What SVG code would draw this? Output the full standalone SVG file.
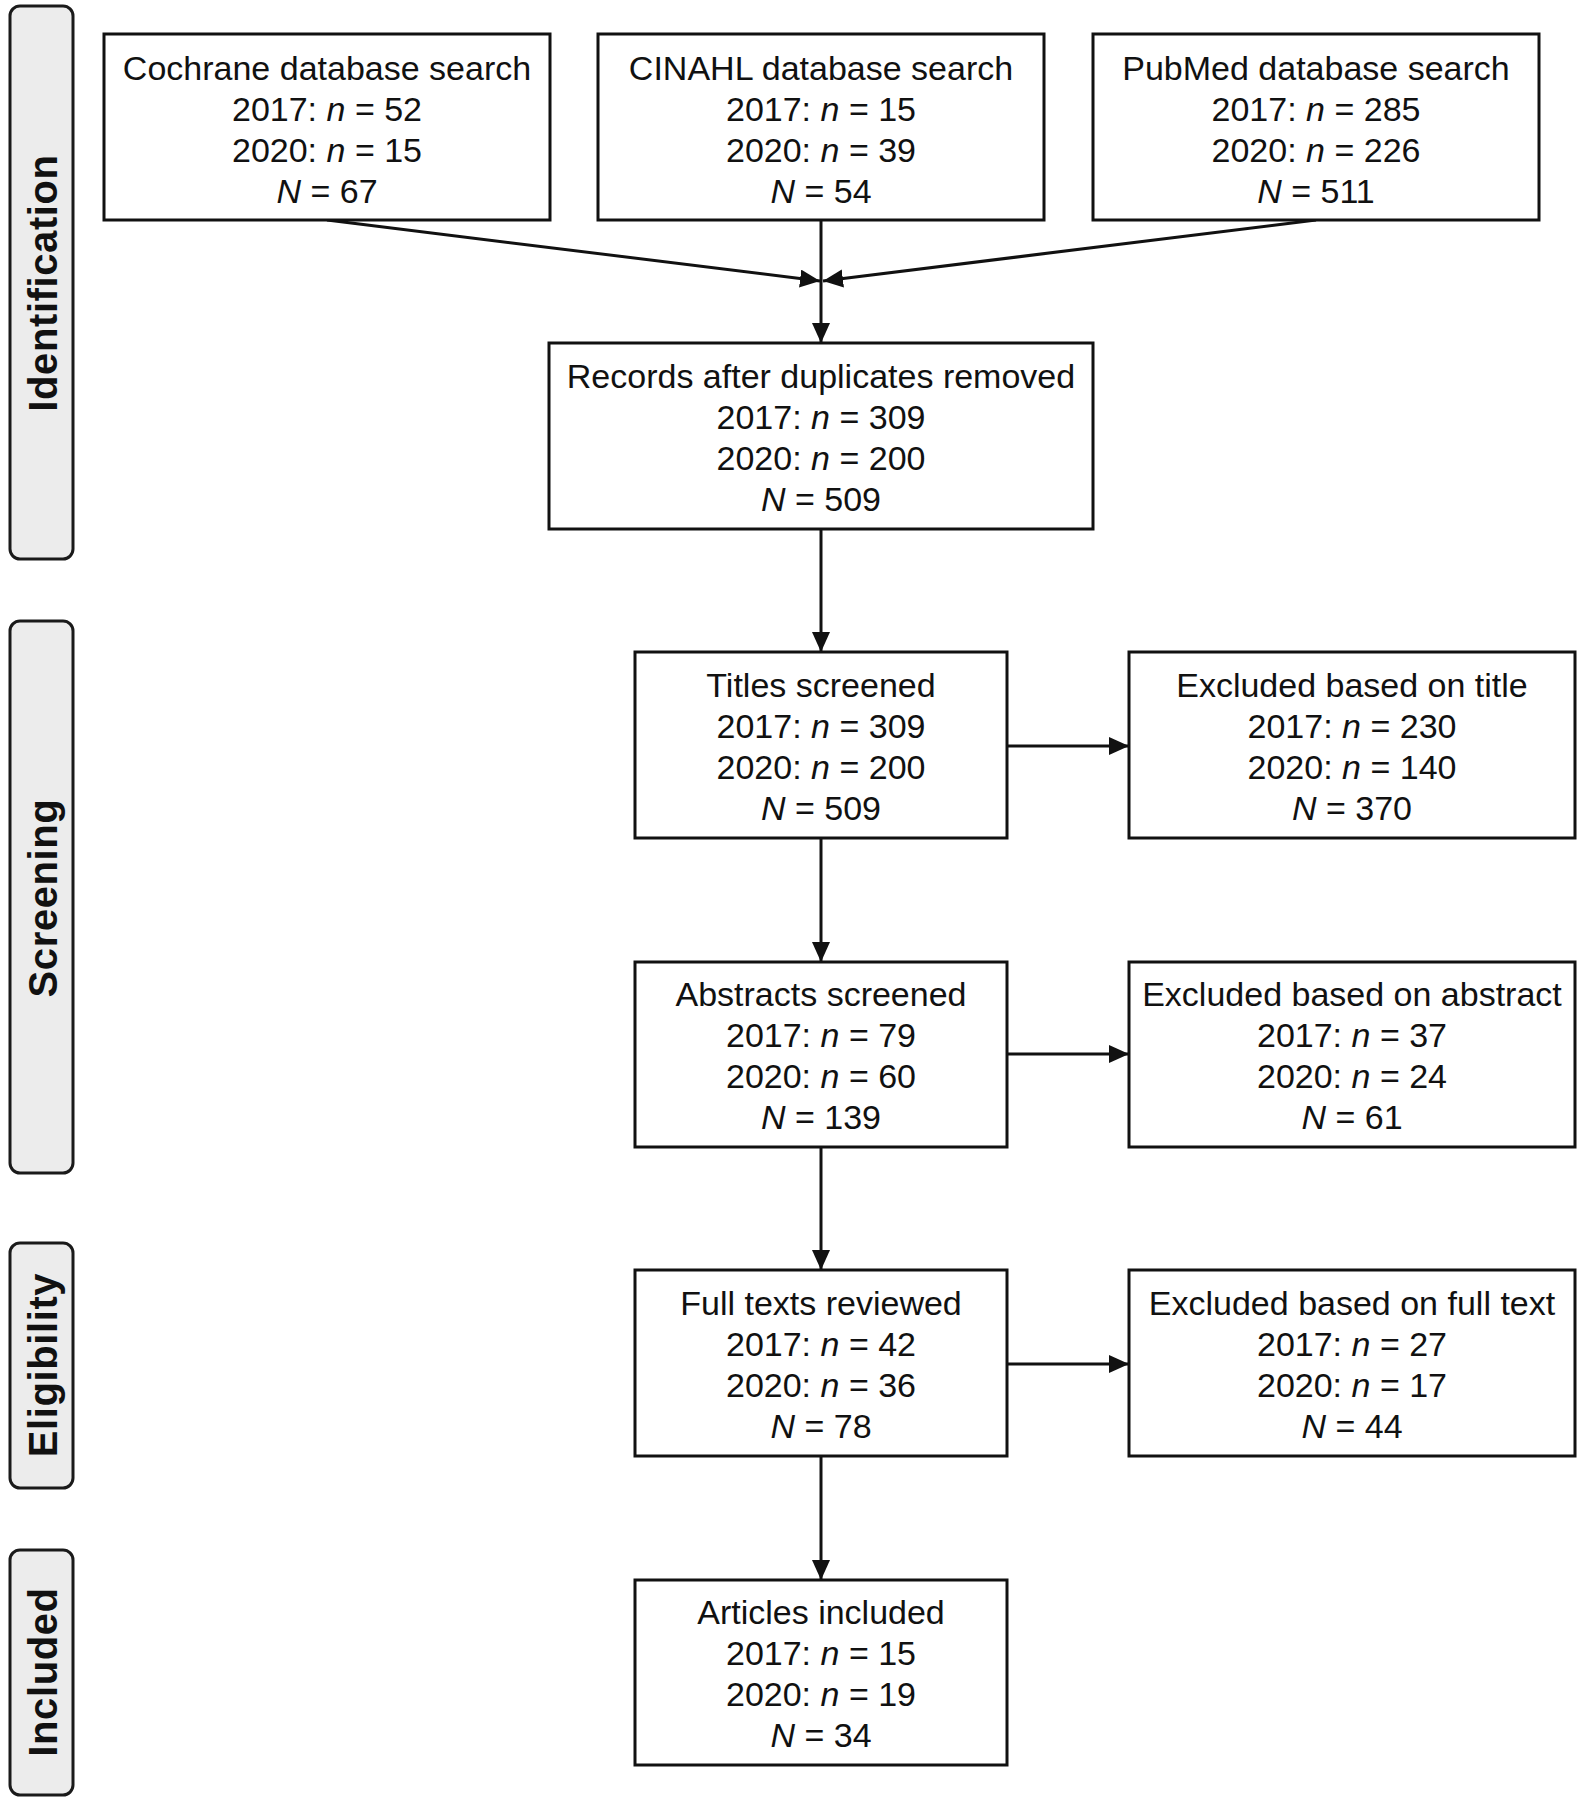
<svg xmlns="http://www.w3.org/2000/svg" width="1589" height="1800" viewBox="0 0 1589 1800">
<style>
.box{fill:#fff;stroke:#111;stroke-width:3}
.lane{fill:#ececec;stroke:#1a1a1a;stroke-width:3}
.t{font-family:"Liberation Sans",Arial,sans-serif;font-size:34px;fill:#111;text-anchor:middle}
.lt{font-family:"Liberation Sans",Arial,sans-serif;font-size:40px;font-weight:bold;fill:#111;text-anchor:middle;letter-spacing:0.6px}
.i{font-style:italic}
.c{stroke:#111;stroke-width:3;fill:none;marker-end:url(#ah)}
</style>
<defs>
<marker id="ah" markerUnits="userSpaceOnUse" markerWidth="22" markerHeight="20" refX="20" refY="9" orient="auto">
<path d="M0,0 L20,9 L0,18 z" fill="#111"/>
</marker>
</defs>
<rect width="1589" height="1800" fill="#fff"/>

<g id="lane-identification"><rect class="lane" x="10" y="6" width="63" height="553" rx="10"/><text class="lt" transform="translate(57,283) rotate(-90)">Identification</text></g>
<g id="lane-screening"><rect class="lane" x="10" y="621" width="63" height="552" rx="10"/><text class="lt" transform="translate(57,898) rotate(-90)">Screening</text></g>
<g id="lane-eligibility"><rect class="lane" x="10" y="1243" width="63" height="245" rx="10"/><text class="lt" transform="translate(57,1365) rotate(-90)">Eligibility</text></g>
<g id="lane-included"><rect class="lane" x="10" y="1550" width="63" height="245" rx="10"/><text class="lt" transform="translate(57,1672) rotate(-90)">Included</text></g>

<g id="connectors">
<line class="c" x1="327" y1="220" x2="820" y2="281"/>
<line class="c" x1="1316" y1="220" x2="823" y2="281"/>
<line class="c" x1="821" y1="220" x2="821" y2="343"/>
<line class="c" x1="821" y1="529" x2="821" y2="652"/>
<line class="c" x1="821" y1="838" x2="821" y2="962"/>
<line class="c" x1="821" y1="1147" x2="821" y2="1270"/>
<line class="c" x1="821" y1="1456" x2="821" y2="1580"/>
<line class="c" x1="1007" y1="746" x2="1129" y2="746"/>
<line class="c" x1="1007" y1="1054" x2="1129" y2="1054"/>
<line class="c" x1="1007" y1="1364" x2="1129" y2="1364"/>
</g>

<g id="cochrane"><rect class="box" x="104" y="34" width="446" height="186"/>
<text class="t" x="327" y="80">Cochrane database search</text>
<text class="t" x="327" y="121">2017: <tspan class="i">n</tspan> = 52</text>
<text class="t" x="327" y="162">2020: <tspan class="i">n</tspan> = 15</text>
<text class="t" x="327" y="203"><tspan class="i">N</tspan> = 67</text></g>

<g id="cinahl"><rect class="box" x="598" y="34" width="446" height="186"/>
<text class="t" x="821" y="80">CINAHL database search</text>
<text class="t" x="821" y="121">2017: <tspan class="i">n</tspan> = 15</text>
<text class="t" x="821" y="162">2020: <tspan class="i">n</tspan> = 39</text>
<text class="t" x="821" y="203"><tspan class="i">N</tspan> = 54</text></g>

<g id="pubmed"><rect class="box" x="1093" y="34" width="446" height="186"/>
<text class="t" x="1316" y="80">PubMed database search</text>
<text class="t" x="1316" y="121">2017: <tspan class="i">n</tspan> = 285</text>
<text class="t" x="1316" y="162">2020: <tspan class="i">n</tspan> = 226</text>
<text class="t" x="1316" y="203"><tspan class="i">N</tspan> = 511</text></g>

<g id="records"><rect class="box" x="549" y="343" width="544" height="186"/>
<text class="t" x="821" y="388">Records after duplicates removed</text>
<text class="t" x="821" y="429">2017: <tspan class="i">n</tspan> = 309</text>
<text class="t" x="821" y="470">2020: <tspan class="i">n</tspan> = 200</text>
<text class="t" x="821" y="511"><tspan class="i">N</tspan> = 509</text></g>

<g id="titles"><rect class="box" x="635" y="652" width="372" height="186"/>
<text class="t" x="821" y="697">Titles screened</text>
<text class="t" x="821" y="738">2017: <tspan class="i">n</tspan> = 309</text>
<text class="t" x="821" y="779">2020: <tspan class="i">n</tspan> = 200</text>
<text class="t" x="821" y="820"><tspan class="i">N</tspan> = 509</text></g>

<g id="excl-title"><rect class="box" x="1129" y="652" width="446" height="186"/>
<text class="t" x="1352" y="697">Excluded based on title</text>
<text class="t" x="1352" y="738">2017: <tspan class="i">n</tspan> = 230</text>
<text class="t" x="1352" y="779">2020: <tspan class="i">n</tspan> = 140</text>
<text class="t" x="1352" y="820"><tspan class="i">N</tspan> = 370</text></g>

<g id="abstracts"><rect class="box" x="635" y="962" width="372" height="185"/>
<text class="t" x="821" y="1006">Abstracts screened</text>
<text class="t" x="821" y="1047">2017: <tspan class="i">n</tspan> = 79</text>
<text class="t" x="821" y="1088">2020: <tspan class="i">n</tspan> = 60</text>
<text class="t" x="821" y="1129"><tspan class="i">N</tspan> = 139</text></g>

<g id="excl-abstract"><rect class="box" x="1129" y="962" width="446" height="185"/>
<text class="t" x="1352" y="1006">Excluded based on abstract</text>
<text class="t" x="1352" y="1047">2017: <tspan class="i">n</tspan> = 37</text>
<text class="t" x="1352" y="1088">2020: <tspan class="i">n</tspan> = 24</text>
<text class="t" x="1352" y="1129"><tspan class="i">N</tspan> = 61</text></g>

<g id="fulltexts"><rect class="box" x="635" y="1270" width="372" height="186"/>
<text class="t" x="821" y="1315">Full texts reviewed</text>
<text class="t" x="821" y="1356">2017: <tspan class="i">n</tspan> = 42</text>
<text class="t" x="821" y="1397">2020: <tspan class="i">n</tspan> = 36</text>
<text class="t" x="821" y="1438"><tspan class="i">N</tspan> = 78</text></g>

<g id="excl-fulltext"><rect class="box" x="1129" y="1270" width="446" height="186"/>
<text class="t" x="1352" y="1315">Excluded based on full text</text>
<text class="t" x="1352" y="1356">2017: <tspan class="i">n</tspan> = 27</text>
<text class="t" x="1352" y="1397">2020: <tspan class="i">n</tspan> = 17</text>
<text class="t" x="1352" y="1438"><tspan class="i">N</tspan> = 44</text></g>

<g id="articles"><rect class="box" x="635" y="1580" width="372" height="185"/>
<text class="t" x="821" y="1624">Articles included</text>
<text class="t" x="821" y="1665">2017: <tspan class="i">n</tspan> = 15</text>
<text class="t" x="821" y="1706">2020: <tspan class="i">n</tspan> = 19</text>
<text class="t" x="821" y="1747"><tspan class="i">N</tspan> = 34</text></g>
</svg>
